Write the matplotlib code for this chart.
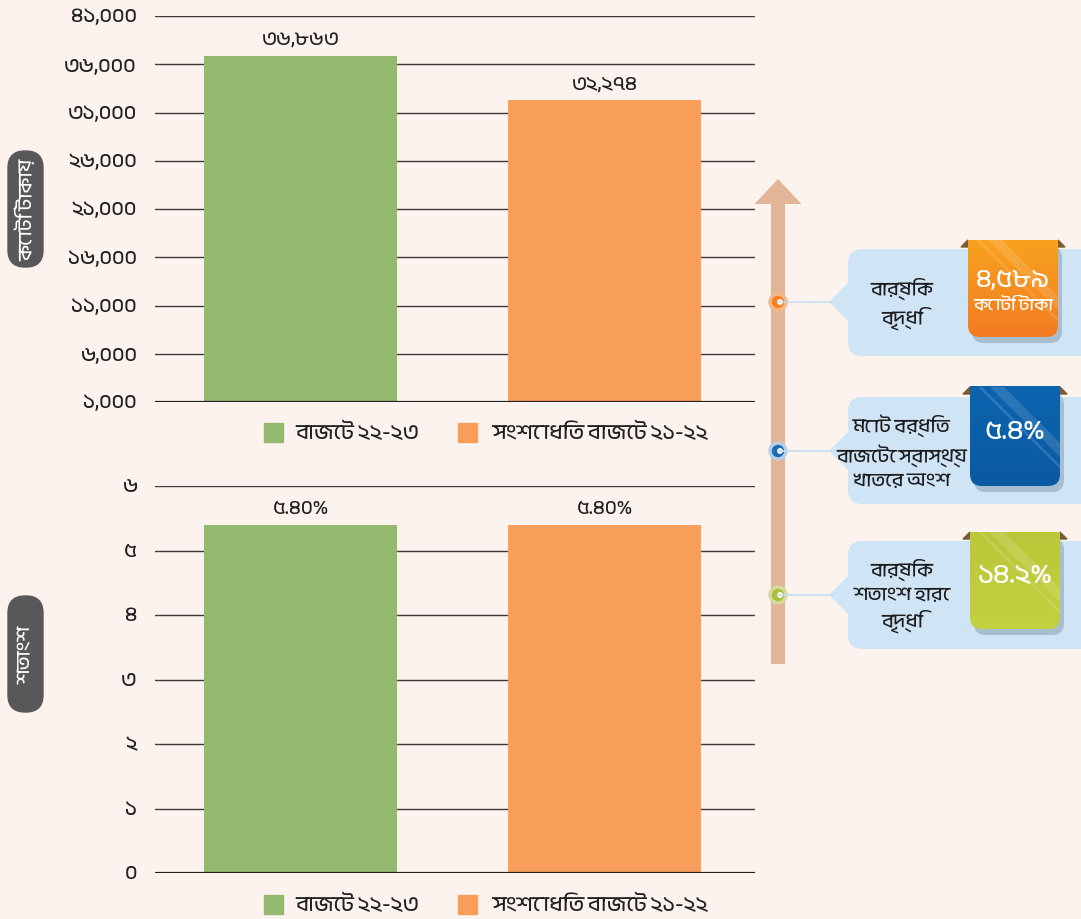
import numpy as np
import matplotlib.pyplot as plt
from matplotlib import font_manager
from matplotlib.colors import LinearSegmentedColormap
from matplotlib.patches import FancyBboxPatch, Rectangle, Polygon, Circle, FancyArrow

# fonts: use a Bengali face if one is around
names = sorted({f.name for f in font_manager.fontManager.ttflist})
bn = [n for n in names if 'Bengali' in n or 'Bangla' in n]
plt.rcParams['font.family'] = bn + ['Noto Sans', 'DejaVu Sans']

# data
series = ['বাজেট ২২-২৩', 'সংশোধিত বাজেট ২১-২২']
amount = [36863, 32274]
amount_labels = ['৩৬,৮৬৩', '৩২,২৭৪']
share = [5.40, 5.40]
share_labels = ['৫.৪০%', '৫.৪০%']
top_ticks = [1000, 6000, 11000, 16000, 21000, 26000, 31000, 36000, 41000]
top_ticklabels = ['১,০০০', '৬,০০০', '১১,০০০', '১৬,০০০', '২১,০০০', '২৬,০০০', '৩১,০০০', '৩৬,০০০', '৪১,০০০']
bot_ticks = [0, 1, 2, 3, 4, 5, 6]
bot_ticklabels = ['০', '১', '২', '৩', '৪', '৫', '৬']
ylab_top = 'কোটি টাকায়'
ylab_bot = 'শতাংশ'
callouts = ['বার্ষিক\nবৃদ্ধি', 'মোট বর্ধিত\nবাজেটে স্বাস্থ্য\nখাতের অংশ', 'বার্ষিক\nশতাংশ হারে\nবৃদ্ধি']
tag_values = ['৪,৫৮৯', '৫.৪%', '১৪.২%']
tag_sub = ['কোটি টাকা', '', '']

colors = ['#93b96f', '#f99f5b']
bg = '#fdf3ee'
W, H = 1081, 920

fig = plt.figure(figsize=(W / 100, H / 100), dpi=100, facecolor=bg)


def px_axes(x0, y0, x1, y1):
    return fig.add_axes([x0 / W, 1 - y1 / H, (x1 - x0) / W, (y1 - y0) / H])


def bar_panel(ax, vals, labels, ticks, ticklabels, ylim):
    x = np.arange(len(vals))
    ax.bar(x, [v - ylim[0] for v in vals], bottom=ylim[0], width=0.635, color=colors, zorder=2)
    ax.set_xlim(-0.479, 1.495)
    ax.set_ylim(*ylim)
    ax.set_yticks(ticks)
    ax.set_yticklabels(ticklabels, va='center', fontsize=15, color='#222222')
    ax.tick_params(axis='y', length=0, pad=13)
    ax.set_xticks([])
    for s in ax.spines.values():
        s.set_visible(False)
    ax.yaxis.grid(True, color='#3a3a3a', linewidth=1.0)
    ax.axhline(ylim[0], color='#222222', linewidth=1.6, zorder=3)
    ax.set_axisbelow(True)
    ax.set_facecolor('none')
    span = ylim[1] - ylim[0]
    for xi, v, lab in zip(x, vals, labels):
        ax.text(xi, v + span * 0.022, lab, ha='center', va='bottom', fontsize=14.5, color='#222222')


ax1 = px_axes(155, 17, 755, 403)
bar_panel(ax1, amount, amount_labels, top_ticks, top_ticklabels, (1000, 41000))

ax2 = px_axes(155, 487, 755, 874)
bar_panel(ax2, share, share_labels, bot_ticks, bot_ticklabels, (0, 6))

# overlay in pixel coords for legend, pills, arrow and callouts
ov = fig.add_axes([0, 0, 1, 1], facecolor='none')
ov.set_xlim(0, W)
ov.set_ylim(H, 0)
ov.axis('off')

for ly in (433, 905):
    for sx, tx, c, lab in zip((264, 458), (295, 492), colors, series):
        ov.add_patch(Rectangle((sx, ly - 9.5), 19, 19, color=c))
        ov.text(tx, ly, lab, va='center', ha='left', fontsize=15.5, color='#222222')

for cy, lab in ((210, ylab_top), (655, ylab_bot)):
    ov.add_patch(FancyBboxPatch((8, cy - 58), 35, 116, boxstyle='round,pad=0,rounding_size=17',
                                color='#58585a'))
    ov.text(25.5, cy, lab, rotation=90, ha='center', va='center', fontsize=14, color='white')

# growth arrow
ov.add_patch(FancyArrow(778, 665, 0, -485, width=14, head_width=47, head_length=25,
                        length_includes_head=True, color='#e2b597', linewidth=0))

dot_y = [303, 452, 596]
dot_c = ['#f58220', '#1b6db5', '#a9c03c']
ring_c = ['#f2b98a', '#b9cfe4', '#d6d9a0']
tag_top = ['#f8a21f', '#0d64ae', '#bcc63a']
tag_bot = ['#f37b22', '#0a5aa3', '#c2d13e']
box_y = [(250, 357), (398, 505), (542, 650)]
tag_y = [(241, 338), (388, 487), (533, 630)]

for i in range(3):
    y = dot_y[i]
    b0, b1 = box_y[i]
    ov.plot([778, 832], [y, y], color='#c5dcef', linewidth=1.2)
    ov.add_patch(FancyBboxPatch((848, b0), 260, b1 - b0, boxstyle='round,pad=0,rounding_size=14',
                                color='#cfe4f5', linewidth=0))
    ov.add_patch(Polygon([(849, y - 20), (829, y), (849, y + 20)], closed=True, color='#cfe4f5', linewidth=0))
    ov.add_patch(Circle((778, y), 9, color=ring_c[i]))
    ov.add_patch(Circle((778, y), 5.5, color=dot_c[i]))
    ov.add_patch(Circle((780, y), 2.2, color='white'))
    ov.text(902, (b0 + b1) / 2, callouts[i], ha='center', va='center', fontsize=14,
            color='#1e1e1e', linespacing=1.4)

    t0, t1 = tag_y[i]
    tx0 = 968 if i == 0 else 970
    tw = 90
    # soft shadow below/right
    ov.add_patch(FancyBboxPatch((tx0 + 4, t0 + 6), tw, t1 - t0, boxstyle='round,pad=0,rounding_size=12',
                                color='#a8bdcd', linewidth=0))
    # ribbon folds
    ov.add_patch(Polygon([(tx0 - 7, t0 + 7), (tx0, t0), (tx0, t0 + 7)], closed=True, color='#7a5b35'))
    ov.add_patch(Polygon([(tx0 + tw, t0), (tx0 + tw + 7, t0 + 7), (tx0 + tw, t0 + 7)], closed=True,
                         color='#7a5b35'))
    # tag body with vertical gradient, rounded bottom
    body = FancyBboxPatch((tx0, t0 - 20), tw, t1 - t0 + 20, boxstyle='round,pad=0,rounding_size=12',
                          facecolor='none', linewidth=0)
    ov.add_patch(body)
    grad = np.linspace(0, 1, 64).reshape(-1, 1)
    cmap = LinearSegmentedColormap.from_list('t%d' % i, [tag_top[i], tag_bot[i]])
    im = ov.imshow(grad, cmap=cmap, extent=(tx0, tx0 + tw, t1, t0), aspect='auto', zorder=2)
    im.set_clip_path(body)
    ov.set_xlim(0, W)
    ov.set_ylim(H, 0)
    # light diagonal stripes
    for off, wd in ((8, 4), (20, 14)):
        st = Polygon([(tx0 + off, t0), (tx0 + off + wd, t0), (tx0 + tw, t0 + tw - off - wd),
                      (tx0 + tw, t0 + tw - off)], closed=True, color='white', alpha=0.13,
                     linewidth=0, zorder=3)
        ov.add_patch(st)
        st.set_clip_path(body)
    if tag_sub[i]:
        ov.text(tx0 + tw / 2, t0 + 39, tag_values[i], ha='center', va='center', fontsize=19,
                fontweight='bold', color='white', zorder=4)
        ov.text(tx0 + tw / 2, t0 + 64, tag_sub[i], ha='center', va='center', fontsize=12.5,
                color='white', zorder=4)
    else:
        ov.text(tx0 + tw / 2, (t0 + t1) / 2 - 6, tag_values[i], ha='center', va='center', fontsize=20,
                fontweight='bold', color='white', zorder=4)

fig.savefig('out.png', dpi=100, facecolor=bg)
